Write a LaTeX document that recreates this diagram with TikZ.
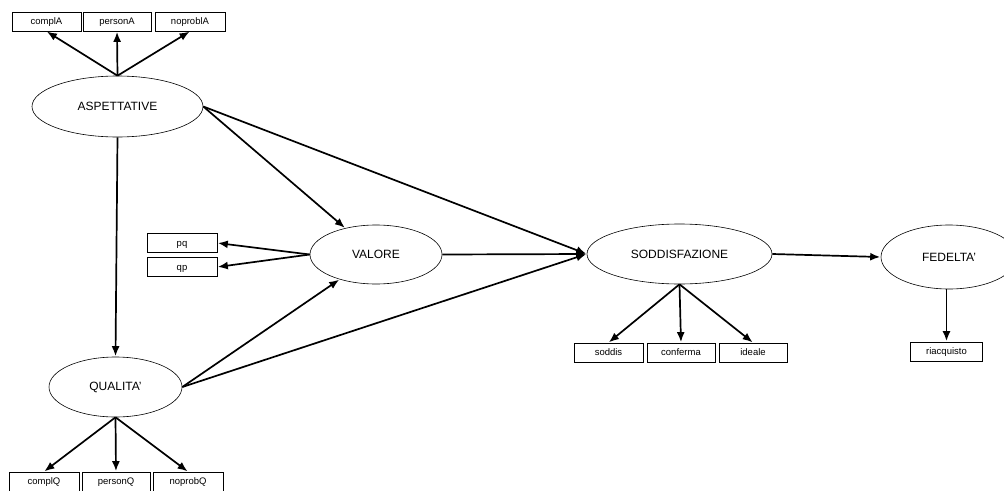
\documentclass[tikz,border=0pt]{standalone}
\usepackage{fontspec}
\setmainfont{Liberation Sans}
\usetikzlibrary{shapes.geometric,arrows.meta}
\begin{document}
\begin{tikzpicture}[x=1pt,y=-1pt,
  latent/.style={draw,ellipse,line width=0.6pt,inner sep=0pt,
    font=\fontsize{12}{14}\selectfont},
  manifest/.style={draw,rectangle,line width=0.7pt,inner sep=0pt,
    minimum height=19pt,text height=7pt,text depth=1pt,
    font=\fontsize{9.5}{11}\selectfont},
  path/.style={line width=1.7pt,-{Latex[length=10pt,width=8pt]},shorten >=0.5pt}
]
\clip (0,0) rectangle (1004,490);

% latent constructs
\node[latent,minimum width=171pt,minimum height=61pt] (asp) at (117.5,106.5) {ASPETTATIVE};
\node[latent,minimum width=133pt,minimum height=60pt] (qual) at (115.5,387) {QUALITA'};
\node[latent,minimum width=132pt,minimum height=59pt] (val) at (376,254.5) {VALORE};
\node[latent,minimum width=185pt,minimum height=60pt] (sod) at (679.5,254) {SODDISFAZIONE};
\node[latent,minimum width=136pt,minimum height=64pt] (fed) at (949,257) {FEDELTA'};

% indicators
\node[manifest,minimum width=69pt] (complA) at (46.5,21.5) {complA};
\node[manifest,minimum width=68pt] (personA) at (117,21.5) {personA};
\node[manifest,minimum width=70pt] (noproblA) at (190,21.5) {noproblA};

\node[manifest,minimum width=70pt] (pq) at (182,243) {pq};
\node[manifest,minimum width=70pt] (qp) at (182,267) {qp};

\node[manifest,minimum width=69pt] (soddis) at (608.5,352.5) {soddis};
\node[manifest,minimum width=68pt] (conferma) at (681,352.5) {conferma};
\node[manifest,minimum width=68pt] (ideale) at (753,352.5) {ideale};

\node[manifest,minimum width=72pt] (riac) at (946.5,351.5) {riacquisto};

\node[manifest,minimum width=70pt] (complQ) at (44,481.5) {complQ};
\node[manifest,minimum width=68pt] (personQ) at (116,481.5) {personQ};
\node[manifest,minimum width=70pt] (noprobQ) at (188,481.5) {noprobQ};

% measurement paths
\draw[path] (asp.north) -- (complA.south);
\draw[path] (asp.north) -- (personA.south);
\draw[path] (asp.north) -- (noproblA.south);

\draw[path] (qual.south) -- (complQ.north);
\draw[path] (qual.south) -- (personQ.north);
\draw[path] (qual.south) -- (noprobQ.north);

\draw[path] (val.west) -- (pq.east);
\draw[path] (val.west) -- (qp.east);

\draw[path] (sod.south) -- (soddis.north);
\draw[path] (sod.south) -- (conferma.north);
\draw[path] (sod.south) -- (ideale.north);

\draw[path] (fed.south -| riac.north) -- (riac.north);

% structural paths
\draw[path] (asp.south) -- (qual.north);
\draw[path] (asp.east) -- (val);
\draw[path] (qual.east) -- (val);
\draw[path] (asp.east) -- (sod.west);
\draw[path] (val.east) -- (sod.west);
\draw[path] (qual.east) -- (sod.west);
\draw[path] (sod.east) -- (fed.west);
\end{tikzpicture}
\end{document}
